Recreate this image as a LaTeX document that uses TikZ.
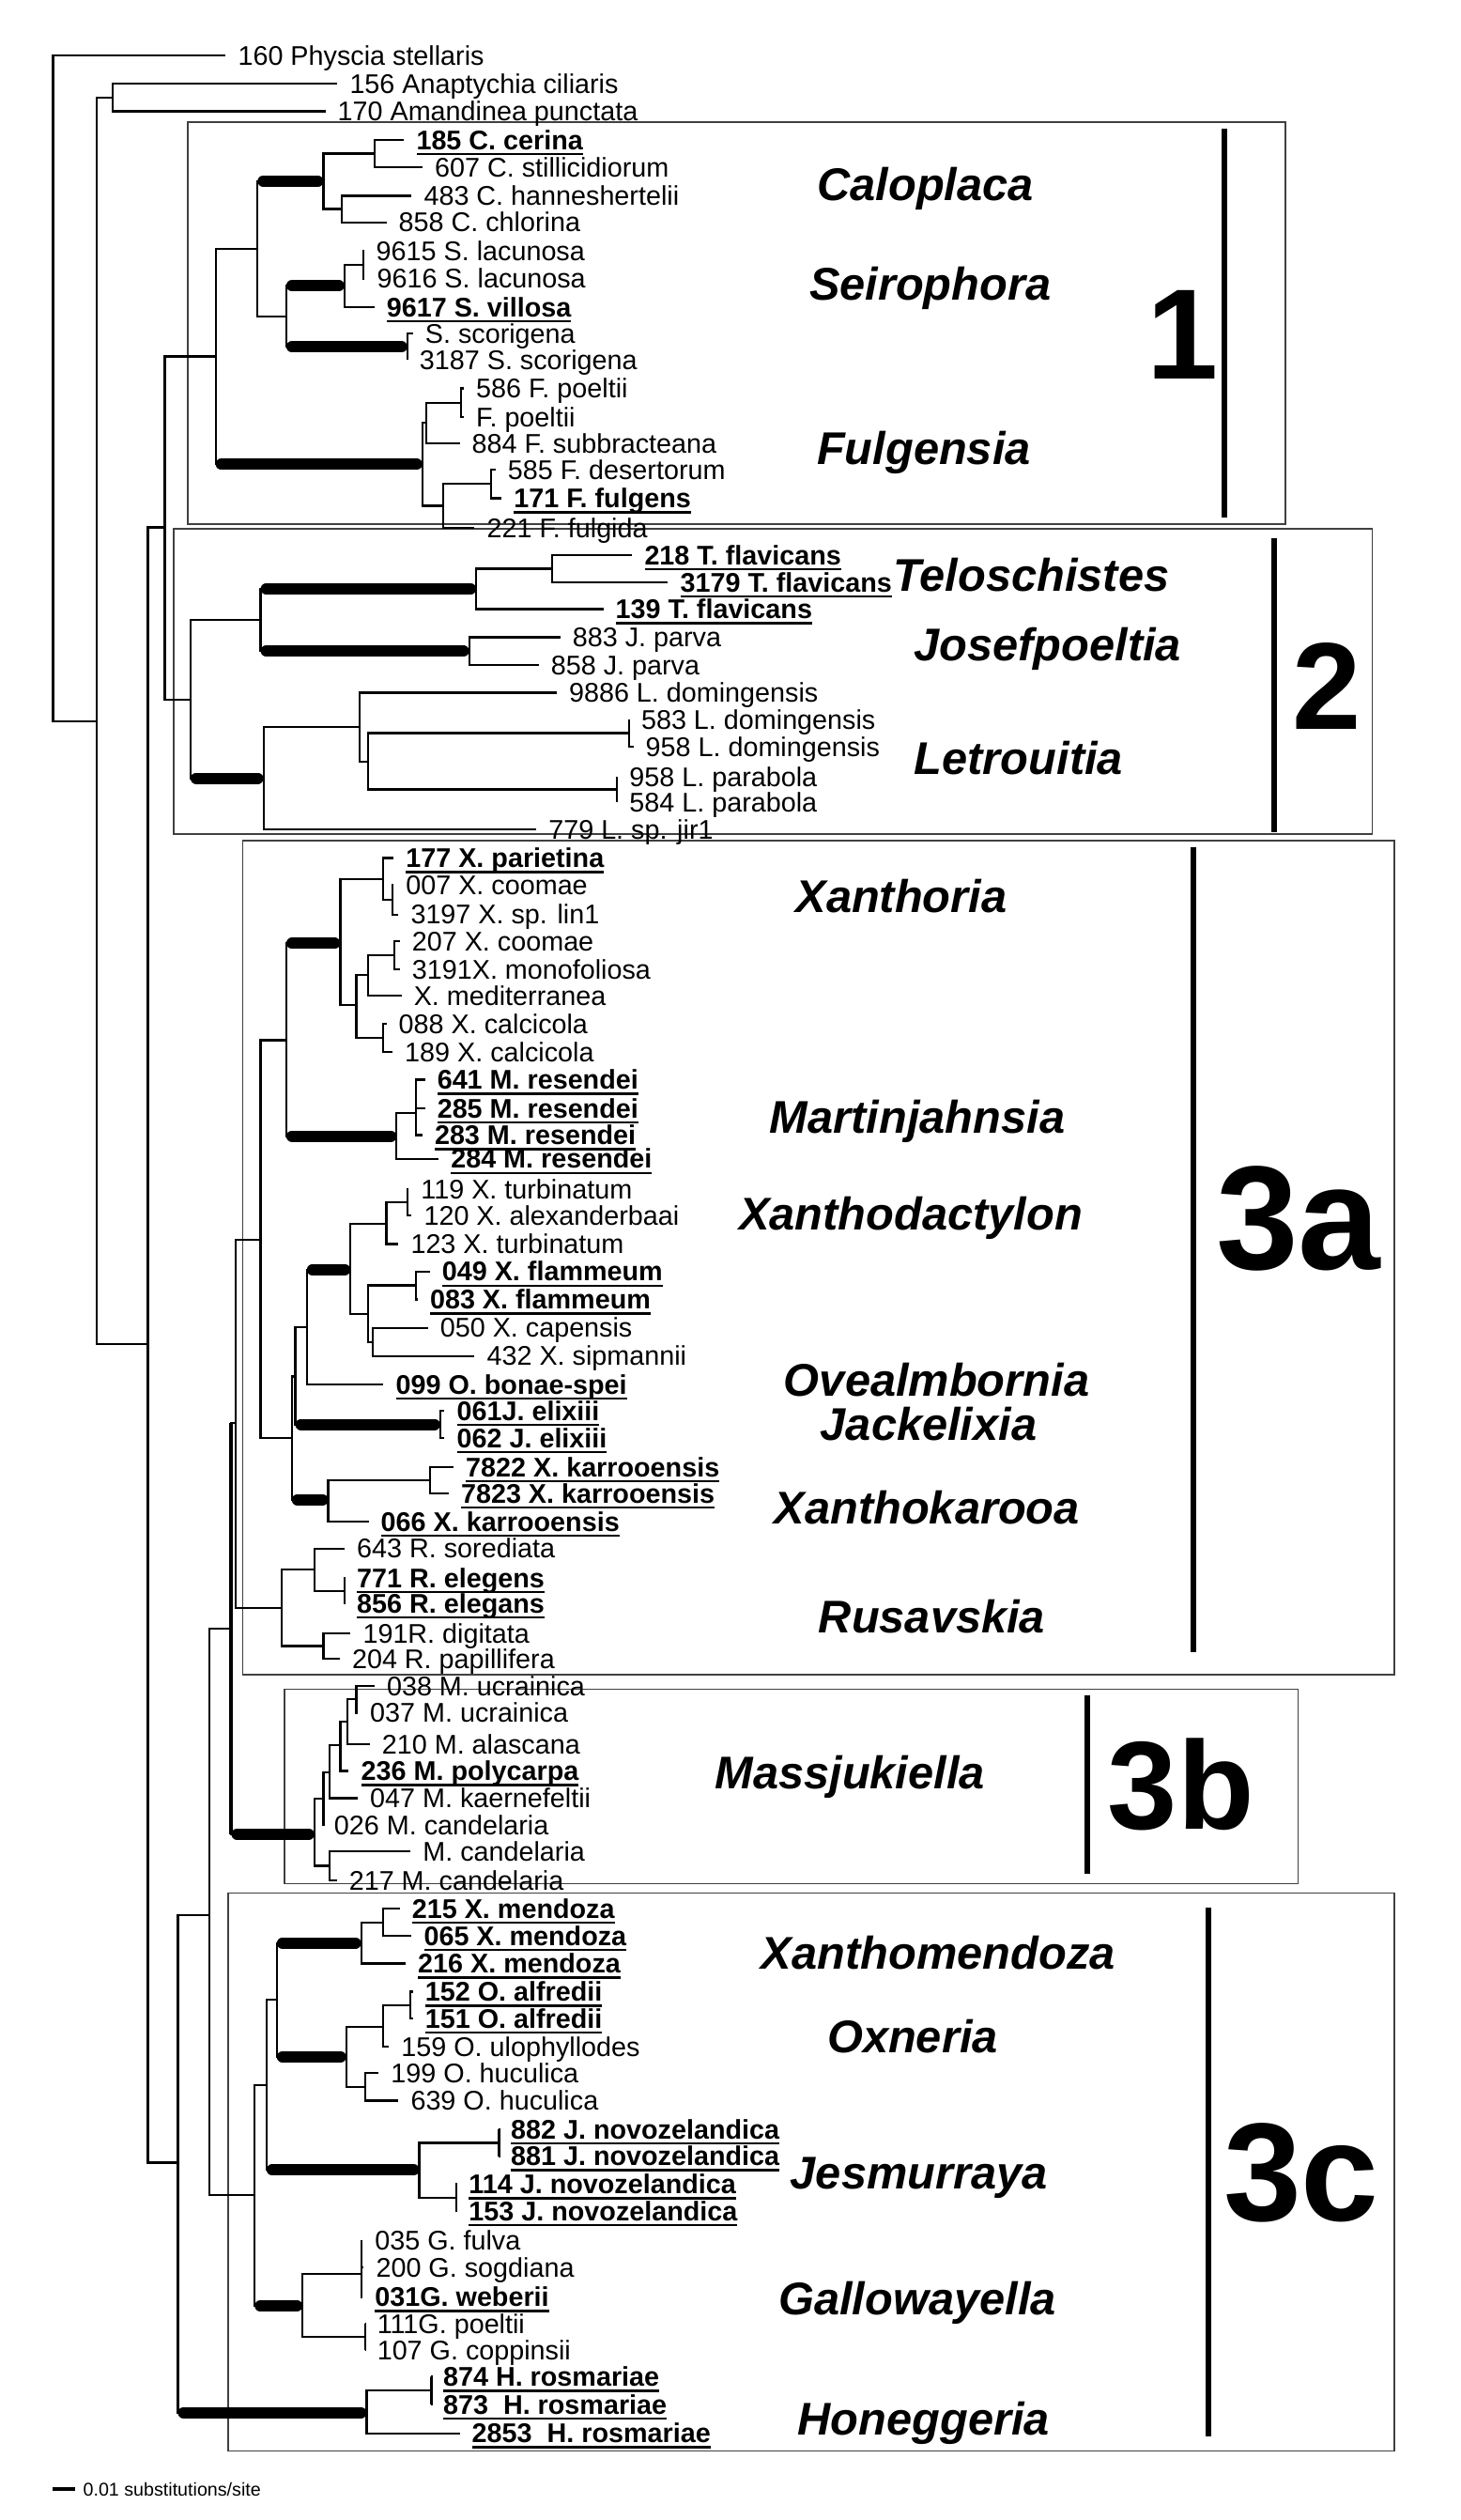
\documentclass[tikz,border=0pt]{standalone}
\usepackage{fontspec}
\setmainfont{Liberation Sans}
% bold, underlined specimen label
\newcommand{\uln}[1]{\setbox0\hbox{\bfseries #1}\rlap{\rule[-3.4pt]{\wd0}{1.3pt}}\box0}

\begin{document}
\begin{tikzpicture}[x=1pt,y=-1pt,
    br/.style={line width=1.3pt},
    sup/.style={line width=7pt, line cap=round, shorten <=3.5pt, shorten >=3.5pt},
    lf/.style={anchor=west, inner xsep=7.5pt, inner ysep=0pt,
      text height=12pt, text depth=0pt, font=\fontsize{16.8}{18}\selectfont},
    genus/.style={anchor=base, inner sep=0pt,
      font=\fontsize{28.5}{30}\selectfont\bfseries\itshape},
    clade/.style={draw=black!75, line width=0.9pt},
    cbar/.style={line width=3.5pt},
    cnum/.style={anchor=base, inner sep=0pt, font=\bfseries}]

  \fill[white] (0,0) rectangle (909,1568);
  \useasboundingbox (0,0) rectangle (909,1568);

  % clade boxes
  \draw[clade] (117,76) rectangle (800,326);
  \draw[clade] (108,329) rectangle (854,519);
  \draw[clade] (151,523) rectangle (868,1042);
  \draw[clade] (177,1051) rectangle (808,1172);
  \draw[clade] (142,1178) rectangle (868,1525);

  % clade bars and numbers
  \draw[cbar] (762,80) -- (762,322);
  \draw[cbar] (793,335) -- (793,518);
  \draw[cbar] (743,527) -- (743,1028);
  \draw[cbar] (677,1055) -- (677,1166);
  \draw[cbar] (752,1187) -- (752,1516);
  \node[cnum] (c1) at (736,236) {\fontsize{80}{80}\selectfont 1};
  \node[cnum] (c2) at (826,454) {\fontsize{77}{77}\selectfont 2};
  \node[cnum] (c3a) at (808,790) {\fontsize{92}{92}\selectfont 3a};
  \node[cnum] (c3b) at (735,1138) {\fontsize{78}{78}\selectfont 3b};
  \node[cnum] (c3c) at (810,1382) {\fontsize{87}{87}\selectfont 3c};

  % genera
  \node[genus] (gCal) at (576,125) {Caloplaca};
  \node[genus] (gSei) at (579,187) {Seirophora};
  \node[genus] (gFul) at (575,289) {Fulgensia};
  \node[genus] (gTel) at (642,368) {Teloschistes};
  \node[genus] (gJos) at (652,411) {Josefpoeltia};
  \node[genus] (gLet) at (634,482) {Letrouitia};
  \node[genus] (gXan) at (561,568) {Xanthoria};
  \node[genus] (gMar) at (571,705) {Martinjahnsia};
  \node[genus] (gXdc) at (567,765) {Xanthodactylon};
  \node[genus] (gOve) at (583,869) {Ovealmbornia};
  \node[genus] (gJac) at (578,896) {Jackelixia};
  \node[genus] (gXka) at (577,948) {Xanthokarooa};
  \node[genus] (gRus) at (580,1016) {Rusavskia};
  \node[genus] (gMas) at (529,1113) {Massjukiella};
  \node[genus] (gXme) at (584,1225) {Xanthomendoza};
  \node[genus] (gOxn) at (568,1277) {Oxneria};
  \node[genus] (gJes) at (572,1362) {Jesmurraya};
  \node[genus] (gGal) at (571,1440) {Gallowayella};
  \node[genus] (gHon) at (575,1515) {Honeggeria};

  % internal nodes
  \coordinate (root) at (33,241.7);
  \coordinate (n0) at (60,448.8);
  \coordinate (og) at (70,60.7);
  \coordinate (ing) at (92,836.5);
  \coordinate (tel) at (102.5,328.2);
  \coordinate (b1) at (134.2,221.8);
  \coordinate (cs) at (160.3,154.8);
  \coordinate (cal) at (201.3,112.7);
  \coordinate (ca1) at (233,95.6);
  \coordinate (ca2) at (212.5,130);
  \coordinate (sei) at (178.2,196.8);
  \coordinate (se1) at (214.4,177.8);
  \coordinate (se11) at (226.3,164.6);
  \coordinate (se2) at (253.5,215.8);
  \coordinate (fu) at (262.9,288.9);
  \coordinate (fu1) at (265.5,263.1);
  \coordinate (fu11) at (287.1,250.5);
  \coordinate (fu2) at (276,314.7);
  \coordinate (fu21) at (305.7,301.2);
  \coordinate (b2) at (118.6,435.3);
  \coordinate (tj) at (162.2,385.6);
  \coordinate (te) at (296.4,366.4);
  \coordinate (te1) at (343.8,353.8);
  \coordinate (jo) at (292,405.1);
  \coordinate (le) at (164,484.2);
  \coordinate (le1) at (223.7,452.4);
  \coordinate (le2) at (229.3,473.9);
  \coordinate (le21) at (391.5,456.2);
  \coordinate (le22) at (384.1,491.2);
  \coordinate (xan) at (110.7,1345.6);
  \coordinate (x0) at (130.5,1191.8);
  \coordinate (d0) at (144,1013.5);
  \coordinate (d1) at (146.5,885.6);
  \coordinate (e) at (162.2,771.6);
  \coordinate (xm) at (178.2,647.2);
  \coordinate (xo) at (211.8,587);
  \coordinate (xo1) at (238.6,547.2);
  \coordinate (xo2) at (244.2,559.7);
  \coordinate (xo3) at (221.8,625.5);
  \coordinate (xo4) at (229.3,606.5);
  \coordinate (xo5) at (245.3,594.2);
  \coordinate (xo6) at (238.6,645.9);
  \coordinate (mj) at (246.8,706.9);
  \coordinate (mj1) at (259.1,692.7);
  \coordinate (g) at (181.6,894.6);
  \coordinate (g1) at (183.8,856.4);
  \coordinate (h) at (191,825.7);
  \coordinate (xd) at (218.1,790);
  \coordinate (xd1) at (240.5,761.6);
  \coordinate (xd11) at (253.5,748.2);
  \coordinate (xd2) at (229.3,817.7);
  \coordinate (xd21) at (259.1,799.8);
  \coordinate (xd22) at (231.9,835);
  \coordinate (jx) at (274,886.3);
  \coordinate (xk) at (204.3,933.2);
  \coordinate (xk1) at (267.7,921.1);
  \coordinate (ru) at (175.2,1000.6);
  \coordinate (ru1) at (195.7,976.7);
  \coordinate (ru11) at (214.4,989.8);
  \coordinate (ru2) at (201.3,1024.2);
  \coordinate (ma) at (195.7,1141.2);
  \coordinate (ma1) at (201.3,1119.3);
  \coordinate (ma2) at (205,1102.6);
  \coordinate (ma3) at (211.8,1085.8);
  \coordinate (ma4) at (216.3,1071.2);
  \coordinate (ma41) at (221.8,1057.3);
  \coordinate (ma5) at (205,1161);
  \coordinate (k) at (158.5,1365.6);
  \coordinate (k1) at (165.9,1297.2);
  \coordinate (k2) at (172.3,1244.4);
  \coordinate (xz) at (224.8,1209);
  \coordinate (xz1) at (238.6,1196.1);
  \coordinate (ox) at (215.5,1279.8);
  \coordinate (ox1) at (238.6,1261.2);
  \coordinate (ox11) at (255.4,1247.5);
  \coordinate (ox2) at (227.4,1298.5);
  \coordinate (je) at (261,1350.2);
  \coordinate (je1) at (310.6,1333.3);
  \coordinate (je2) at (284.1,1367.3);
  \coordinate (ga) at (188.3,1434.8);
  \coordinate (ga1) at (224.8,1415);
  \coordinate (ga2) at (227.4,1454.1);
  \coordinate (ho) at (228.2,1501.2);
  \coordinate (ho1) at (268.5,1487.4);

  % outgroup
  \node[lf] (l160) at (140.5,34.7) {160 Physcia stellaris};
  \node[lf] (l156) at (210,52.2) {156 Anaptychia ciliaris};
  \node[lf] (l170) at (202.5,69.2) {170 Amandinea punctata};
  % Caloplaca, Seirophora, Fulgensia
  \node[lf] (l185) at (251.5,87.1) {\uln{185 C. cerina}};
  \node[lf] (l607) at (263,104.2) {607 C. stillicidiorum};
  \node[lf] (l483) at (256.2,121.8) {483 C. hanneshertelii};
  \node[lf] (l858c) at (240.5,138.3) {858 C. chlorina};
  \node[lf] (l9615) at (226.5,155.9) {9615 S. lacunosa};
  \node[lf] (l9616) at (227,173.4) {9616 S. lacunosa};
  \node[lf] (l9617) at (233,191) {\uln{9617 S. villosa}};
  \node[lf] (lss) at (257,207.5) {S. scorigena};
  \node[lf] (l3187) at (253.5,224.1) {3187 S. scorigena};
  \node[lf] (l586) at (288.7,241.6) {586 F. poeltii};
  \node[lf] (lfp) at (288.7,259.5) {F. poeltii};
  \node[lf] (l884) at (286.1,275.7) {884 F. subbracteana};
  \node[lf] (l585) at (308.4,292.3) {585 F. desertorum};
  \node[lf] (l171) at (312.2,310) {\uln{171 F. fulgens}};
  \node[lf] (l221) at (295.4,328.3) {221 F. fulgida};
  % Teloschistes, Josefpoeltia, Letrouitia
  \node[lf] (l218) at (393.5,345.3) {\uln{218 T. flavicans}};
  \node[lf] (l3179) at (415.8,362.4) {\uln{3179 T. flavicans}};
  \node[lf] (l139) at (375.5,379) {\uln{139 T. flavicans}};
  \node[lf] (l883) at (348.7,396.5) {883 J. parva};
  \node[lf] (l858j) at (335.3,413.7) {858 J. parva};
  \node[lf] (l9886) at (346.5,431) {9886 L. domingensis};
  \node[lf] (l583) at (391.5,447.8) {583 L. domingensis};
  \node[lf] (l958d) at (394.2,464.7) {958 L. domingensis};
  \node[lf] (l958p) at (384.1,483.2) {958 L. parabola};
  \node[lf] (l584) at (384.1,499.2) {584 L. parabola};
  \node[lf] (l779) at (333.8,516) {779 L. sp. jir1};
  % Xanthoria, Martinjahnsia
  \node[lf] (l177) at (245,533.9) {\uln{177 X. parietina}};
  \node[lf] (l007) at (245,550.5) {007 X. coomae};
  \node[lf] (l3197) at (248,569) {3197 X. sp. lin1};
  \node[lf] (l207) at (248.8,585.5) {207 X. coomae};
  \node[lf] (l3191) at (248.8,603) {3191X. monofoliosa};
  \node[lf] (lmed) at (249.9,619.6) {X. mediterranea};
  \node[lf] (l088) at (240.5,637.2) {088 X. calcicola};
  \node[lf] (l189) at (244.3,654.7) {189 X. calcicola};
  \node[lf] (l641) at (264.5,671.8) {\uln{641 M. resendei}};
  \node[lf] (l285) at (264.5,689.8) {\uln{285 M. resendei}};
  \node[lf] (l283) at (262.9,706.3) {\uln{283 M. resendei}};
  \node[lf] (l284) at (273,721) {\uln{284 M. resendei}};
  % Xanthodactylon, Ovealmbornia, Jackelixia, Xanthokarooa
  \node[lf] (l119) at (254.4,740) {119 X. turbinatum};
  \node[lf] (l120) at (256.2,756.4) {120 X. alexanderbaai};
  \node[lf] (l123) at (248,774) {123 X. turbinatum};
  \node[lf] (l049) at (267.5,791.1) {\uln{049 X. flammeum}};
  \node[lf] (l083) at (260,808.6) {\uln{083 X. flammeum}};
  \node[lf] (l050) at (266.3,826.2) {050 X. capensis};
  \node[lf] (l432) at (295.4,843.7) {432 X. sipmannii};
  \node[lf] (l099) at (238.7,861.3) {\uln{099 O. bonae-spei}};
  \node[lf] (l061) at (276.7,877.8) {\uln{061J. elixiii}};
  \node[lf] (l062) at (276.7,894.8) {\uln{062 J. elixiii}};
  \node[lf] (l7822) at (282.3,912.9) {\uln{7822 X. karrooensis}};
  \node[lf] (l7823) at (279.3,929.4) {\uln{7823 X. karrooensis}};
  \node[lf] (l066) at (229.4,946.6) {\uln{066 X. karrooensis}};
  % Rusavskia
  \node[lf] (l643) at (214.5,963.5) {643 R. sorediata};
  \node[lf] (l771) at (214.5,982) {\uln{771 R. elegens}};
  \node[lf] (l856) at (214.5,997.6) {\uln{856 R. elegans}};
  \node[lf] (l191) at (218.2,1016.2) {191R. digitata};
  \node[lf] (l204) at (211.5,1032.3) {204 R. papillifera};
  % Massjukiella
  \node[lf] (l038) at (233.1,1048.9) {038 M. ucrainica};
  \node[lf] (l037) at (222.7,1065.8) {037 M. ucrainica};
  \node[lf] (l210) at (230.1,1085.3) {210 M. alascana};
  \node[lf] (l236) at (217.1,1101.9) {\uln{236 M. polycarpa}};
  \node[lf] (l047) at (222.7,1118.8) {047 M. kaernefeltii};
  \node[lf] (l026) at (200.3,1135.6) {026 M. candelaria};
  \node[lf] (lmc) at (255.5,1152) {M. candelaria};
  \node[lf] (l217) at (209.6,1170.1) {217 M. candelaria};
  % Xanthomendoza, Oxneria, Jesmurraya, Gallowayella, Honeggeria
  \node[lf] (l215) at (248.8,1187.6) {\uln{215 X. mendoza}};
  \node[lf] (l065) at (256.2,1204.6) {\uln{065 X. mendoza}};
  \node[lf] (l216) at (252.5,1221.7) {\uln{216 X. mendoza}};
  \node[lf] (l152) at (257,1239.3) {\uln{152 O. alfredii}};
  \node[lf] (l151) at (257,1255.8) {\uln{151 O. alfredii}};
  \node[lf] (l159) at (242.1,1273.3) {159 O. ulophyllodes};
  \node[lf] (l199) at (235.7,1290) {199 O. huculica};
  \node[lf] (l639) at (248,1307.1) {639 O. huculica};
  \node[lf] (l882) at (310.3,1325) {\uln{882 J. novozelandica}};
  \node[lf] (l881) at (310.3,1341.6) {\uln{881 J. novozelandica}};
  \node[lf] (l114) at (284.2,1359.1) {\uln{114 J. novozelandica}};
  \node[lf] (l153) at (284.2,1375.6) {\uln{153 J. novozelandica}};
  \node[lf] (l035) at (225.7,1394.2) {035 G. fulva};
  \node[lf] (l200) at (226.4,1410.7) {200 G. sogdiana};
  \node[lf] (l031) at (225.7,1429.2) {\uln{031G. weberii}};
  \node[lf] (l111) at (227.1,1445.8) {111G. poeltii};
  \node[lf] (l107) at (227.1,1462.4) {107 G. coppinsii};
  \node[lf] (l874) at (268.2,1478.9) {\uln{874 H. rosmariae}};
  \node[lf] (l873) at (268.2,1496) {\uln{873\ \ H. rosmariae}};
  \node[lf] (l2853) at (286.1,1514) {\uln{2853\ \ H. rosmariae}};

  % backbone
  \draw[br] (root) |- (l160.west) (root) |- (n0);
  \draw[br] (n0) |- (og) (n0) |- (ing);
  \draw[br] (og) |- (l156.west) (og) |- (l170.west);
  \draw[br] (ing) |- (tel) (ing) |- (xan);
  \draw[br] (tel) |- (b1) (tel) |- (b2);

  % clade 1
  \draw[br] (b1) |- (cs) (b1) |- (fu);
  \draw[sup] (b1 |- fu) -- (fu);
  \draw[br] (cs) |- (cal) (cs) |- (sei);
  \draw[sup] (cs |- cal) -- (cal);
  \draw[br] (cal) |- (ca1) (cal) |- (ca2);
  \draw[br] (ca1) |- (l185.west) (ca1) |- (l607.west);
  \draw[br] (ca2) |- (l483.west) (ca2) |- (l858c.west);
  \draw[br] (sei) |- (se1) (sei) |- (se2);
  \draw[sup] (sei |- se1) -- (se1);
  \draw[sup] (sei |- se2) -- (se2);
  \draw[br] (se1) |- (se11) (se1) |- (l9617.west);
  \draw[br] (se11) |- (l9615.west) (se11) |- (l9616.west);
  \draw[br] (se2) |- (lss.west) (se2) |- (l3187.west);
  \draw[br] (fu) |- (fu1) (fu) |- (fu2);
  \draw[br] (fu1) |- (fu11) (fu1) |- (l884.west);
  \draw[br] (fu11) |- (l586.west) (fu11) |- (lfp.west);
  \draw[br] (fu2) |- (fu21) (fu2) |- (l221.west);
  \draw[br] (fu21) |- (l585.west) (fu21) |- (l171.west);

  % clade 2
  \draw[br] (b2) |- (tj) (b2) |- (le);
  \draw[sup] (b2 |- le) -- (le);
  \draw[br] (tj) |- (te) (tj) |- (jo);
  \draw[sup] (tj |- te) -- (te);
  \draw[sup] (tj |- jo) -- (jo);
  \draw[br] (te) |- (te1) (te) |- (l139.west);
  \draw[br] (te1) |- (l218.west) (te1) |- (l3179.west);
  \draw[br] (jo) |- (l883.west) (jo) |- (l858j.west);
  \draw[br] (le) |- (le1) (le) |- (l779.west);
  \draw[br] (le1) |- (l9886.west) (le1) |- (le2);
  \draw[br] (le2) |- (le21) (le2) |- (le22);
  \draw[br] (le21) |- (l583.west) (le21) |- (l958d.west);
  \draw[br] (le22) |- (l958p.west) (le22) |- (l584.west);

  % clade 3
  \draw[br] (xan) |- (x0) (xan) |- (ho);
  \draw[sup] (xan |- ho) -- (ho);
  \draw[br] (x0) |- (d0) (x0) |- (k);
  \draw[br] (d0) |- (d1) (d0) |- (ma);
  \draw[line width=2.4pt] (d0 |- d1) -- (d0 |- ma);
  \draw[sup] (d0 |- ma) -- (ma);
  \draw[br] (d1) |- (e) (d1) |- (ru);
  \draw[br] (e) |- (xm) (e) |- (g);
  \draw[br] (xm) |- (xo) (xm) |- (mj);
  \draw[sup] (xm |- xo) -- (xo);
  \draw[sup] (xm |- mj) -- (mj);
  \draw[br] (xo) |- (xo1) (xo) |- (xo3);
  \draw[br] (xo1) |- (l177.west) (xo1) |- (xo2);
  \draw[br] (xo2) |- (l007.west) (xo2) |- (l3197.west);
  \draw[br] (xo3) |- (xo4) (xo3) |- (xo6);
  \draw[br] (xo4) |- (xo5) (xo4) |- (lmed.west);
  \draw[br] (xo5) |- (l207.west) (xo5) |- (l3191.west);
  \draw[br] (xo6) |- (l088.west) (xo6) |- (l189.west);
  \draw[br] (mj) |- (mj1) (mj) |- (l284.west);
  \draw[br] (mj1) |- (l641.west) (mj1) |- (l285.west) (mj1) |- (l283.west);
  \draw[br] (g) |- (g1) (g) |- (xk);
  \draw[sup] (g |- xk) -- (xk);
  \draw[br] (g1) |- (h) (g1) |- (jx);
  \draw[sup] (g1 |- jx) -- (jx);
  \draw[br] (h) |- (xd) (h) |- (l099.west);
  \draw[sup] (h |- xd) -- (xd);
  \draw[br] (xd) |- (xd1) (xd) |- (xd2);
  \draw[br] (xd1) |- (xd11) (xd1) |- (l123.west);
  \draw[br] (xd11) |- (l119.west) (xd11) |- (l120.west);
  \draw[br] (xd2) |- (xd21) (xd2) |- (xd22);
  \draw[br] (xd21) |- (l049.west) (xd21) |- (l083.west);
  \draw[br] (xd22) |- (l050.west) (xd22) |- (l432.west);
  \draw[br] (jx) |- (l061.west) (jx) |- (l062.west);
  \draw[br] (xk) |- (xk1) (xk) |- (l066.west);
  \draw[br] (xk1) |- (l7822.west) (xk1) |- (l7823.west);
  \draw[br] (ru) |- (ru1) (ru) |- (ru2);
  \draw[br] (ru1) |- (l643.west) (ru1) |- (ru11);
  \draw[br] (ru11) |- (l771.west) (ru11) |- (l856.west);
  \draw[br] (ru2) |- (l191.west) (ru2) |- (l204.west);
  \draw[br] (ma) |- (ma1) (ma) |- (ma5);
  \draw[br] (ma1) |- (ma2) (ma1) |- (l026.west);
  \draw[br] (ma2) |- (ma3) (ma2) |- (l047.west);
  \draw[br] (ma3) |- (ma4) (ma3) |- (l236.west);
  \draw[br] (ma4) |- (ma41) (ma4) |- (l210.west);
  \draw[br] (ma41) |- (l038.west) (ma41) |- (l037.west);
  \draw[br] (ma5) |- (lmc.west) (ma5) |- (l217.west);
  \draw[br] (k) |- (k1) (k) |- (ga);
  \draw[sup] (k |- ga) -- (ga);
  \draw[br] (k1) |- (k2) (k1) |- (je);
  \draw[sup] (k1 |- je) -- (je);
  \draw[br] (k2) |- (xz) (k2) |- (ox);
  \draw[sup] (k2 |- xz) -- (xz);
  \draw[sup] (k2 |- ox) -- (ox);
  \draw[br] (xz) |- (xz1) (xz) |- (l216.west);
  \draw[br] (xz1) |- (l215.west) (xz1) |- (l065.west);
  \draw[br] (ox) |- (ox1) (ox) |- (ox2);
  \draw[br] (ox1) |- (ox11) (ox1) |- (l159.west);
  \draw[br] (ox11) |- (l152.west) (ox11) |- (l151.west);
  \draw[br] (ox2) |- (l199.west) (ox2) |- (l639.west);
  \draw[br] (je) |- (je1) (je) |- (je2);
  \draw[br] (je1) |- (l882.west) (je1) |- (l881.west);
  \draw[br] (je2) |- (l114.west) (je2) |- (l153.west);
  \draw[br] (ga) |- (ga1) (ga) |- (ga2);
  \draw[br] (ga1) |- (l035.west) (ga1) |- (l200.west) (ga1) |- (l031.west);
  \draw[br] (ga2) |- (l111.west) (ga2) |- (l107.west);
  \draw[br] (ho) |- (ho1) (ho) |- (l2853.west);
  \draw[br] (ho1) |- (l874.west) (ho1) |- (l873.west);

  % scale bar
  \coordinate (sb0) at (33,1548.7);
  \node[anchor=west, inner xsep=5pt, inner ysep=0pt, font=\fontsize{11.5}{12}\selectfont]
    (sbl) at (46.6,1548.7) {0.01 substitutions/site};
  \draw[line width=2pt] (sb0) -- (sbl.west);
\end{tikzpicture}
\end{document}
